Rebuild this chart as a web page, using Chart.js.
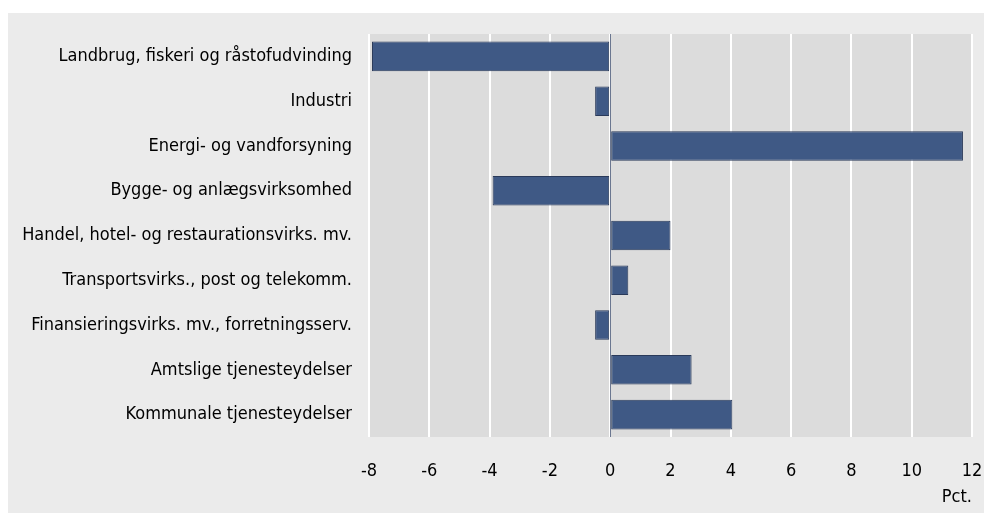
<!DOCTYPE html>
<html lang="da">
<head>
<meta charset="UTF-8">
<script src="https://cdn.jsdelivr.net/npm/chart.js"></script>
<style>
  body { margin: 0; background: #fff; }
  #panel { position: absolute; left: 8px; top: 13px; width: 976px; height: 500px; background: #ebebeb; }
</style>
</head>
<body>
<div id="panel"><canvas id="grafico" width="976" height="500"></canvas></div>
<script>
const kategorier = [
  'Landbrug, fiskeri og råstofudvinding',
  'Industri',
  'Energi- og vandforsyning',
  'Bygge- og anlægsvirksomhed',
  'Handel, hotel- og restaurationsvirks. mv.',
  'Transportsvirks., post og telekomm.',
  'Finansieringsvirks. mv., forretningsserv.',
  'Amtslige tjenesteydelser',
  'Kommunale tjenesteydelser'
];
const vaerdier = [-7.9, -0.5, 11.7, -3.9, 2.0, 0.6, -0.5, 2.7, 4.05];
const xMin = -8;
const xMax = 12;
const xStep = 2;

const skrift = '"DejaVu Sans Condensed", "DejaVu Sans", sans-serif';

// plot area background + zero line
const baggrund = {
  id: 'baggrund',
  beforeDraw(chart) {
    const a = chart.chartArea;
    const ctx = chart.ctx;
    ctx.save();
    ctx.fillStyle = '#dcdcdc';
    ctx.fillRect(a.left, a.top, a.right - a.left, a.bottom - a.top);
    ctx.restore();
  },
  afterDatasetsDraw(chart) {
    const a = chart.chartArea;
    const x0 = Math.round(chart.scales.x.getPixelForValue(0)) + 0.5;
    const ctx = chart.ctx;
    ctx.save();
    ctx.strokeStyle = '#6b7790';
    ctx.lineWidth = 1;
    ctx.beginPath();
    ctx.moveTo(x0, a.top);
    ctx.lineTo(x0, a.bottom);
    ctx.stroke();
    ctx.restore();
  }
};

new Chart(document.getElementById('grafico'), {
  type: 'bar',
  data: {
    labels: kategorier,
    datasets: [{
      data: vaerdier,
      backgroundColor: '#3f5985',
      borderColor: '#2a3a5a',
      borderWidth: 1,
      borderSkipped: false,
      barPercentage: 0.66,
      categoryPercentage: 1
    }]
  },
  options: {
    indexAxis: 'y',
    responsive: false,
    animation: false,
    layout: { padding: { top: 21, right: 12, left: 0, bottom: 0 } },
    plugins: { legend: { display: false }, tooltip: { enabled: false } },
    scales: {
      x: {
        min: xMin,
        max: xMax,
        border: { display: false },
        grid: { color: '#ffffff', lineWidth: 2, drawTicks: false },
        ticks: { stepSize: xStep, color: '#000', padding: 24, font: { family: skrift, size: 18 } },
        title: { display: true, text: 'Pct.', align: 'end', color: '#000', padding: { top: 0, bottom: 5 }, font: { family: skrift, size: 18 } },
        afterFit(s) { s.height = 76; s.paddingLeft = 0; s.paddingRight = 0; }
      },
      y: {
        border: { display: false },
        grid: { display: false, drawTicks: false },
        ticks: { color: '#000', padding: 17, font: { family: skrift, size: 18 } },
        afterFit(s) { s.width = 361; s.paddingTop = 0; s.paddingBottom = 0; }
      }
    }
  },
  plugins: [baggrund]
});
</script>
</body>
</html>
